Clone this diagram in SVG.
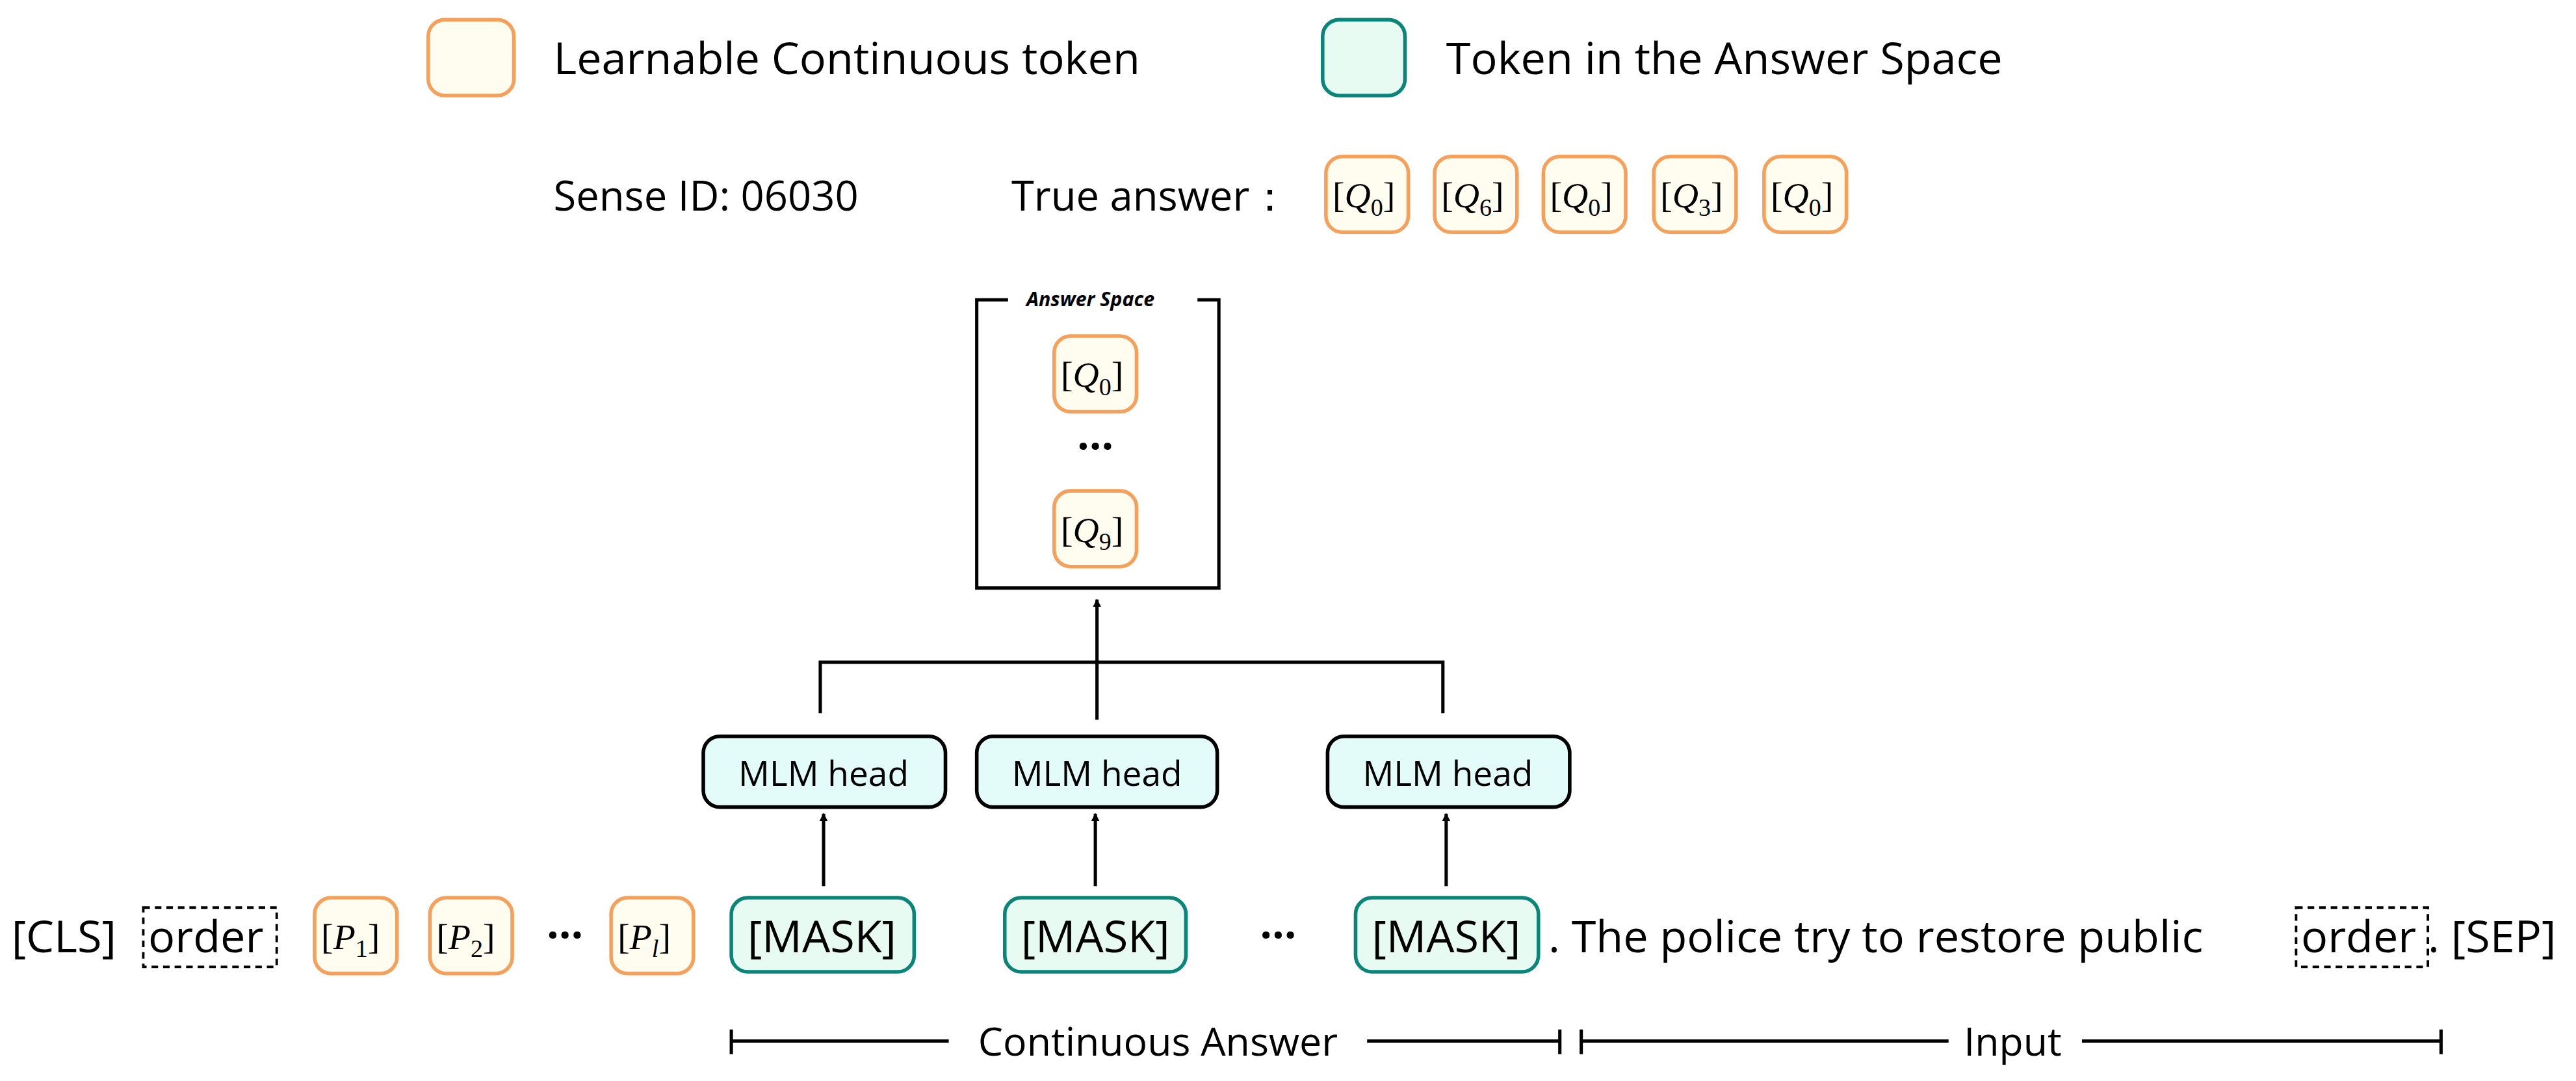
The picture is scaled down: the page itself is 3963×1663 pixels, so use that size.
<svg xmlns="http://www.w3.org/2000/svg" width="3963" height="1663" viewBox="0 0 3963 1663">
<style>
.t{font-family:"Open Sans","Noto Sans",sans-serif;fill:#000}
.m{font-family:"Liberation Serif",serif;fill:#000;font-size:22px}
.o{fill:#fffdf0;stroke:#f5a15c;stroke-width:2.2}
.g{fill:#e8fbf2;stroke:#0b857a;stroke-width:2.2}
.h{fill:#e4fcf9;stroke:#000;stroke-width:2.2}
.d{fill:none;stroke:#000;stroke-width:1.5;stroke-dasharray:4 3}
.l{stroke:#000;stroke-width:2;fill:none}
</style>
<defs>
<marker id="a" viewBox="0 0 10 10" refX="9" refY="5" markerWidth="5" markerHeight="6" orient="auto" markerUnits="userSpaceOnUse"><path d="M0,0L10,5L0,10z" fill="#000"/></marker>
<g id="q"><rect x="0" y="0" width="50" height="46" rx="10" class="o"/></g>
</defs>
<rect width="3963" height="1663" fill="#fff"/>
<g transform="scale(2.534)">
<g id="legend">
<rect x="260" y="12" width="52" height="46" rx="10" class="o"/>
<text x="336" y="45" class="t" font-size="27">Learnable Continuous token</text>
<rect x="803" y="12" width="50" height="46" rx="10" class="g"/>
<text x="878" y="45" class="t" font-size="27">Token in the Answer Space</text>
</g>
<g id="answer">
<text x="336" y="128" class="t" font-size="25">Sense ID: 06030</text>
<text x="614" y="128" class="t" font-size="25">True answer：</text>
<g transform="translate(805,95)"><use href="#q"/><text x="4" y="31" class="m">[<tspan font-style="italic">Q</tspan><tspan font-size="15" dy="5">0</tspan><tspan dy="-5">]</tspan></text></g>
<g transform="translate(871,95)"><use href="#q"/><text x="4" y="31" class="m">[<tspan font-style="italic">Q</tspan><tspan font-size="15" dy="5">6</tspan><tspan dy="-5">]</tspan></text></g>
<g transform="translate(937,95)"><use href="#q"/><text x="4" y="31" class="m">[<tspan font-style="italic">Q</tspan><tspan font-size="15" dy="5">0</tspan><tspan dy="-5">]</tspan></text></g>
<g transform="translate(1004,95)"><use href="#q"/><text x="4" y="31" class="m">[<tspan font-style="italic">Q</tspan><tspan font-size="15" dy="5">3</tspan><tspan dy="-5">]</tspan></text></g>
<g transform="translate(1071,95)"><use href="#q"/><text x="4" y="31" class="m">[<tspan font-style="italic">Q</tspan><tspan font-size="15" dy="5">0</tspan><tspan dy="-5">]</tspan></text></g>
</g>
<g id="answer-space">
<path d="M612,182H593V357H740V182H727" class="l"/>
<text x="662" y="186" class="t" font-size="12" font-style="italic" font-weight="bold" text-anchor="middle">Answer Space</text>
<g transform="translate(640,204)"><use href="#q"/><text x="4" y="31" class="m">[<tspan font-style="italic">Q</tspan><tspan font-size="15" dy="5">0</tspan><tspan dy="-5">]</tspan></text></g>
<text x="665" y="280" class="t" font-size="26" font-weight="bold" text-anchor="middle">···</text>
<g transform="translate(640,298)"><use href="#q"/><text x="4" y="31" class="m">[<tspan font-style="italic">Q</tspan><tspan font-size="15" dy="5">9</tspan><tspan dy="-5">]</tspan></text></g>
</g>
<g id="heads">
<rect x="427" y="447" width="147" height="43" rx="10" class="h"/>
<text x="500" y="477" class="t" font-size="21" text-anchor="middle" font-family="Liberation Sans">MLM head</text>
<rect x="593" y="447" width="146" height="43" rx="10" class="h"/>
<text x="666" y="477" class="t" font-size="21" text-anchor="middle">MLM head</text>
<rect x="806" y="447" width="147" height="43" rx="10" class="h"/>
<text x="879" y="477" class="t" font-size="21" text-anchor="middle">MLM head</text>
</g>
<g id="tokens">
<text x="7" y="578" class="t" font-size="27">[CLS]</text>
<rect x="87" y="551" width="81" height="36" class="d"/>
<text x="90" y="578" class="t" font-size="27">order</text>
<g transform="translate(191,545)"><use href="#q"/><text x="4" y="31" class="m">[<tspan font-style="italic">P</tspan><tspan font-size="15" dy="5">1</tspan><tspan dy="-5">]</tspan></text></g>
<g transform="translate(261,545)"><use href="#q"/><text x="4" y="31" class="m">[<tspan font-style="italic">P</tspan><tspan font-size="15" dy="5">2</tspan><tspan dy="-5">]</tspan></text></g>
<text x="343" y="577" class="t" font-size="26" font-weight="bold" text-anchor="middle">···</text>
<g transform="translate(371,545)"><use href="#q"/><text x="4" y="31" class="m">[<tspan font-style="italic">P</tspan><tspan font-size="15" dy="5" font-style="italic">l</tspan><tspan dy="-5">]</tspan></text></g>
<rect x="444" y="545" width="111" height="45" rx="10" class="g"/>
<text x="499" y="578" class="t" font-size="27" text-anchor="middle">[MASK]</text>
<rect x="610" y="545" width="110" height="45" rx="10" class="g"/>
<text x="665" y="578" class="t" font-size="27" text-anchor="middle">[MASK]</text>
<text x="776" y="577" class="t" font-size="26" font-weight="bold" text-anchor="middle">···</text>
<rect x="823" y="545" width="111" height="45" rx="10" class="g"/>
<text x="878" y="578" class="t" font-size="27" text-anchor="middle">[MASK]</text>
<text x="940" y="578" class="t" font-size="27">. The police try to restore public</text>
<rect x="1394" y="551" width="80" height="36" class="d"/>
<text x="1397" y="578" class="t" font-size="27">order</text>
<text x="1474" y="578" class="t" font-size="27">. [SEP]</text>
</g>
<g id="connectors">
<line x1="500" y1="538" x2="500" y2="494" class="l" marker-end="url(#a)"/>
<line x1="665" y1="538" x2="665" y2="494" class="l" marker-end="url(#a)"/>
<line x1="878" y1="538" x2="878" y2="494" class="l" marker-end="url(#a)"/>
<path d="M498,433V402H876V433" class="l"/>
<line x1="666" y1="437" x2="666" y2="364" class="l" marker-end="url(#a)"/>
<path d="M444,625V640M444,632H576M830,632H947M947,625V640M960,625V640M960,632H1183M1264,632H1482M1482,625V640" class="l"/>
<text x="703" y="641" class="t" font-size="24" text-anchor="middle">Continuous Answer</text>
<text x="1222" y="641" class="t" font-size="24" text-anchor="middle">Input</text>
</g>
</g>
</svg>
